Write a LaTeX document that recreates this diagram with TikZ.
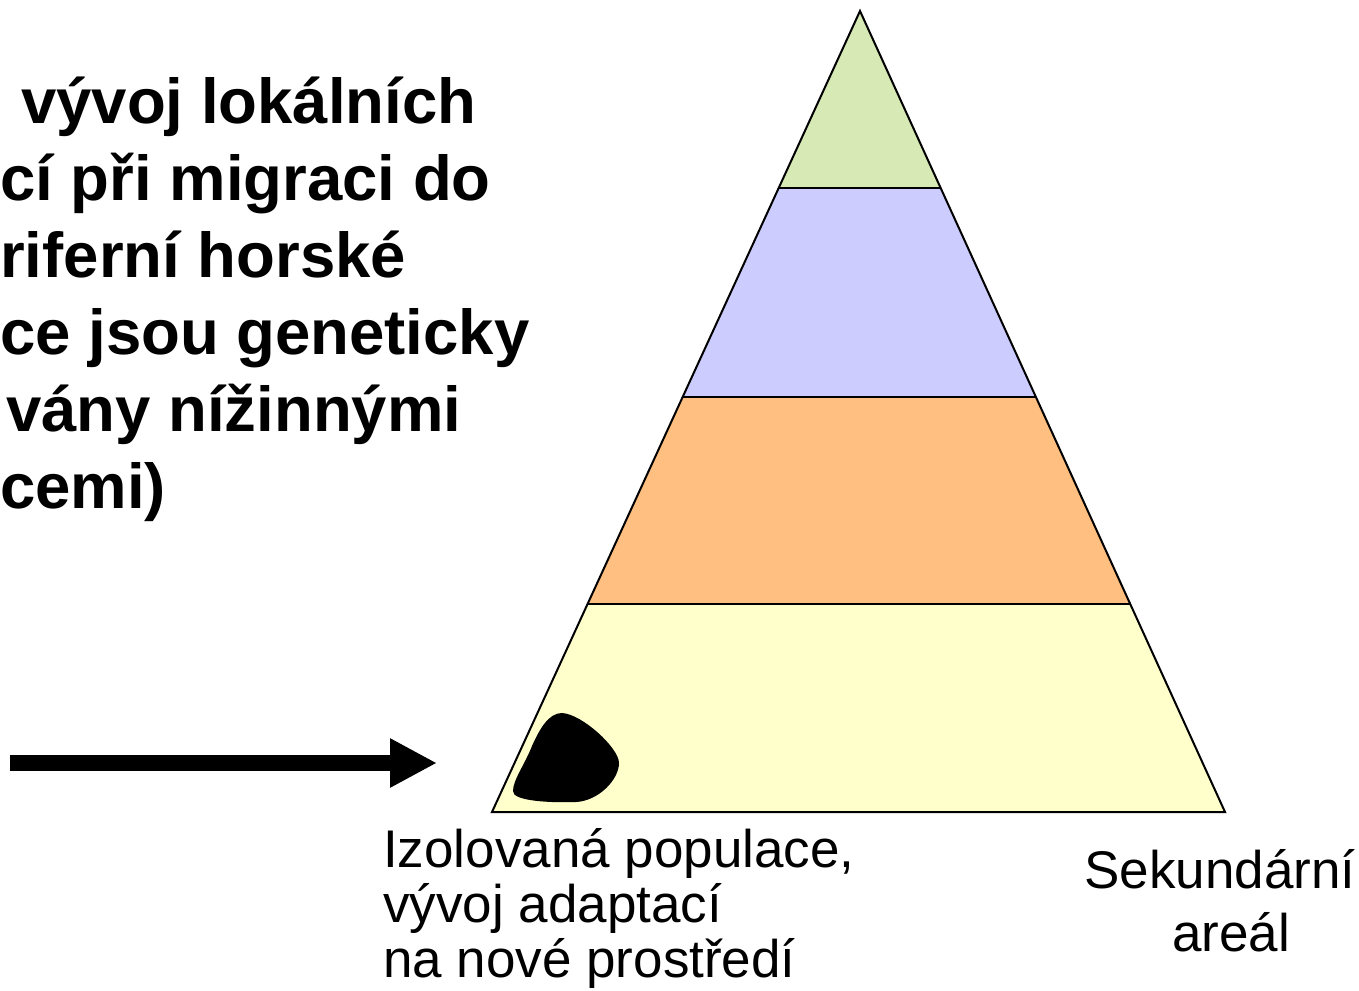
\documentclass[tikz,border=0pt]{standalone}
\usepackage{fontspec}
\setmainfont{Liberation Sans}
\usetikzlibrary{arrows.meta}
\definecolor{bandA}{HTML}{D7E9B4}
\definecolor{bandB}{HTML}{CCCCFF}
\definecolor{bandC}{HTML}{FFBF80}
\definecolor{bandD}{HTML}{FFFFCC}
\begin{document}
\begin{tikzpicture}[x=1pt,y=-1pt,
  bandline/.style={draw=black,line width=2pt,line join=miter},
  boldtext/.style={inner sep=0pt,anchor=base west,font=\fontsize{63.5}{77}\selectfont\bfseries},
  labeltext/.style={inner sep=0pt,anchor=base west,font=\fontsize{53}{55}\selectfont},
  bigarrow/.style={line width=16pt,-{Triangle[length=47pt,width=46pt]}}]
\useasboundingbox (0,0) rectangle (1359,990);
% pyramid bands
\fill[bandD] (492,812) -- (587.6,604) -- (1130.2,604) -- (1225,812) -- cycle;
\fill[bandC] (587.6,604) -- (682.7,397) -- (1035.9,397) -- (1130.2,604) -- cycle;
\fill[bandB] (682.7,397) -- (778.7,188) -- (940.7,188) -- (1035.9,397) -- cycle;
\fill[bandA] (778.7,188) -- (860,11) -- (940.7,188) -- cycle;
\draw[bandline] (860,11) -- (492,812) -- (1225,812) -- cycle;
\draw[bandline] (778.7,188) -- (940.7,188);
\draw[bandline] (682.7,397) -- (1035.9,397);
\draw[bandline] (587.6,604) -- (1130.2,604);
% isolated population blob
\fill[black] (562,713) .. controls (582,714) and (619,748) .. (619,763)
  .. controls (619,780) and (598,801) .. (576,802)
  .. controls (550,803) and (512,801) .. (513,791)
  .. controls (513,780) and (525,764) .. (532,746)
  .. controls (540,728) and (549,713) .. (562,713) -- cycle;
% arrow
\coordinate (arrowstart) at (10,763);
\coordinate (arrowend) at (437,763);
\draw[bigarrow] (arrowstart) -- (arrowend);
% left bold text
\node[boldtext] (t1) at (21,123) {vývoj lokálních};
\node[boldtext] (t2) at (0,200) {cí při migraci do};
\node[boldtext] (t3) at (0,277) {riferní horské};
\node[boldtext] (t4) at (0,354) {ce jsou geneticky};
\node[boldtext] (t5) at (6,431) {vány nížinnými};
\node[boldtext] (t6) at (0,508) {cemi)};
% labels
\node[labeltext] (l1) at (383,867) {Izolovaná populace,};
\node[labeltext] (l2) at (383,922) {vývoj adaptací};
\node[labeltext] (l3) at (383,977) {na nové prostředí};
\node[labeltext,anchor=base] (s1) at (1220,888) {Sekundární};
\node[labeltext,anchor=base] (s2) at (1231,951) {areál};
\end{tikzpicture}
\end{document}
